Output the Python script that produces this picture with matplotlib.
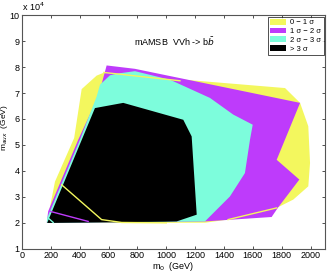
import matplotlib
matplotlib.use("Agg")
import matplotlib.pyplot as plt
from matplotlib.ticker import FuncFormatter, MultipleLocator
from matplotlib.patches import Patch

plt.rcParams['font.family'] = ['Liberation Sans', 'DejaVu Sans']

# Region boundaries: m0 (GeV), maux (GeV)
yellow_m0 = [173, 229, 362, 414, 518, 563, 1823, 1927, 1984, 1996, 1984, 1880, 1765, 1428, 1268, 173]
yellow_maux = [20000, 35900, 52700, 71500, 76700, 77700, 71900, 66200, 57200, 43100, 34100, 29000, 25800, 21300, 20100, 20000]

magenta_m0 = [173, 182, 390, 529, 587, 783, 1927, 1765, 1922, 1774, 1730, 1268, 173]
magenta_maux = [20500, 24500, 52000, 68700, 80600, 79300, 66200, 44300, 36700, 25900, 22300, 20600, 20000]

cyan_m0 = [173, 175, 402, 518, 541, 610, 665, 783, 1026, 1303, 1464, 1599, 1580, 1545, 1441, 1268, 173]
cyan_maux = [20000, 21900, 52000, 68700, 73200, 76800, 77500, 78400, 75100, 68100, 61700, 57800, 52000, 39200, 30200, 20600, 20000]

black_m0 = [175, 506, 702, 1118, 1176, 1211, 1072, 991, 175]
black_maux = [20000, 64200, 66200, 59700, 53300, 23200, 20600, 20500, 20000]

# contour edge lines visible on top
yline1_m0 = [275, 552, 691, 1000]
yline1_maux = [34700, 21300, 20200, 20050]
yline2_m0 = [568, 1095]
yline2_maux = [77900, 74700]
yline3_m0 = [1428, 1765]
yline3_maux = [21300, 25800]
mline_m0 = [194, 459]
mline_maux = [24500, 20600]
cline_m0 = [182, 217]
cline_maux = [21900, 20200]

labels = ["0 \u2212 1 \u03c3", "1 \u03c3 \u2212 2 \u03c3", "2 \u03c3 \u2212 3 \u03c3", "> 3 \u03c3"]
colors = ["#F3F75E", "#BE3BFB", "#7DFDDC", "#000000"]

fig = plt.figure(figsize=(3.27, 2.73), dpi=100)
ax = fig.add_axes([0.067, 0.088, 0.927, 0.857])

ax.fill(yellow_m0, yellow_maux, color=colors[0], lw=0)
ax.fill(magenta_m0, magenta_maux, color=colors[1], lw=0)
ax.fill(cyan_m0, cyan_maux, color=colors[2], lw=0)
ax.fill(black_m0, black_maux, color=colors[3], lw=0)

ax.plot(yline1_m0, yline1_maux, color=colors[0], lw=1.0)
ax.plot(yline2_m0, yline2_maux, color=colors[0], lw=1.0)
ax.plot(yline3_m0, yline3_maux, color=colors[0], lw=1.0)
ax.plot(mline_m0, mline_maux, color=colors[1], lw=1.0)
ax.plot(cline_m0, cline_maux, color=colors[2], lw=1.0)

ax.set_xlim(0, 2100)
ax.set_ylim(10000, 100000)
ax.xaxis.set_major_locator(MultipleLocator(200))
ax.yaxis.set_major_locator(MultipleLocator(10000))
ax.yaxis.set_major_formatter(FuncFormatter(lambda v, p: f"{v/1e4:.0f}"))
ax.tick_params(direction='in', length=2.5, width=0.6, labelsize=6.5, top=True, right=True,
               colors='#333333', labelcolor='black', pad=1.5)
for s in ax.spines.values():
    s.set_color('#555555')
    s.set_linewidth(0.8)

ax.set_xlabel("m$_0$  (GeV)", fontsize=6.5, labelpad=0)
ax.set_ylabel("m$_{aux}$  (GeV)", fontsize=6)
ax.yaxis.set_label_coords(-0.038, 0.52)
ax.text(0.0, 1.01, "x 10$^4$", transform=ax.transAxes, fontsize=6.5, ha='left', va='bottom')

ax.text(1053, 89700, "mAMSB  VVh -> b$\\bar{b}$", fontsize=6.5, ha='center', va='center')

handles = [Patch(facecolor=c, edgecolor='none') for c in colors]
leg = ax.legend(handles, labels, loc='upper right', fontsize=5.5, frameon=True, fancybox=False,
                edgecolor='black', borderpad=0.3, handlelength=2.0, handleheight=0.8,
                labelspacing=0.15, handletextpad=0.6, borderaxespad=0.2)
leg.get_frame().set_linewidth(0.6)

fig.savefig("out.png", dpi=100)
